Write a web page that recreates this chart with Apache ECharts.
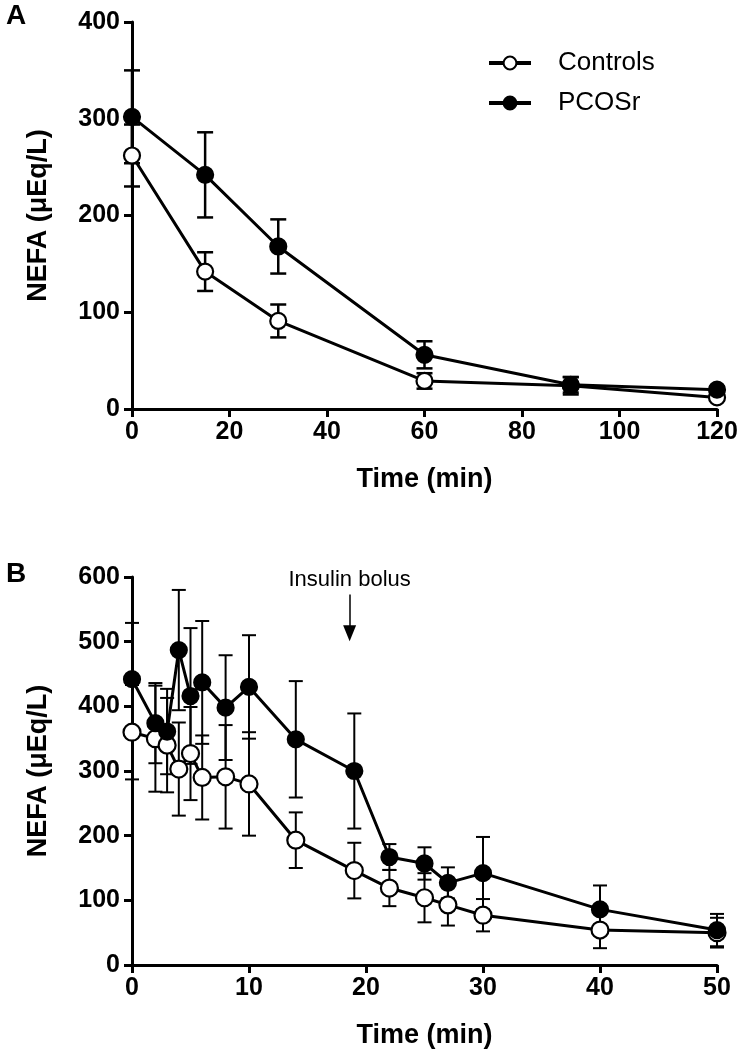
<!DOCTYPE html>
<html>
<head>
<meta charset="utf-8">
<script src="https://cdn.jsdelivr.net/npm/echarts@6/dist/echarts.min.js"></script>
<style>
html,body{margin:0;padding:0;background:#fff;}
#c{width:741px;height:1050px;}
</style>
</head>
<body>
<div id="c"></div>
<script>
// Panel A data
const timeA = [0, 15, 30, 60, 90, 120];
const controlsA = [262, 142, 91, 29, 24, 12];
const controlsSemA = [32, 20, 17, 8, 9, 3];
const pcosA = [302, 242, 168, 56, 25, 20];
const pcosSemA = [48, 44, 28, 14, 8, 3];

// Panel B data
const timeB = [0, 2, 3, 4, 5, 6, 8, 10, 14, 19, 22, 25, 27, 30, 40, 50];
const controlsB = [360, 350, 340, 303, 327, 290, 291, 280, 193, 146, 119, 104, 93, 77, 54, 50];
const controlsSemB = [73, 82, 73, 72, 72, 65, 80, 80, 43, 43, 28, 38, 32, 25, 28, 23];
const pcosB = [442, 374, 361, 487, 416, 437, 398, 430, 349, 300, 167, 157, 127, 142, 86, 54];
const pcosSemB = [87, 62, 66, 93, 105, 95, 81, 80, 90, 89, 20, 25, 24, 56, 37, 25];

const seriesNames = ['Controls', 'PCOSr'];
const yTitle = 'NEFA (\u03BCEq/L)';
const xTitle = 'Time (min)';
const bolusTime = 18.6;
const bolusArrow = [573, 513];
const bolusLabel = 'Insulin bolus';

const FONT = 'Liberation Sans, Arial, Helvetica, sans-serif';

function pairs(xs, ys) { return xs.map((x, i) => [x, ys[i]]); }
function errData(xs, ys, sem) { return xs.map((x, i) => [x, ys[i] - sem[i], ys[i] + sem[i]]); }

function errSeries(xi, data, capHalf, lw) {
  return {
    type: 'custom', xAxisIndex: xi, yAxisIndex: xi, z: 1, silent: true,
    data: data,
    encode: { x: 0, y: [1, 2] },
    renderItem: function (params, api) {
      const x = api.value(0);
      const lo = api.coord([x, api.value(1)]);
      const hi = api.coord([x, api.value(2)]);
      const st = { stroke: '#000', lineWidth: lw };
      return {
        type: 'group',
        children: [
          { type: 'line', shape: { x1: lo[0], y1: lo[1], x2: hi[0], y2: hi[1] }, style: st },
          { type: 'line', shape: { x1: lo[0] - capHalf, y1: lo[1], x2: lo[0] + capHalf, y2: lo[1] }, style: st },
          { type: 'line', shape: { x1: hi[0] - capHalf, y1: hi[1], x2: hi[0] + capHalf, y2: hi[1] }, style: st }
        ]
      };
    }
  };
}

function lineSeries(name, xi, data, open, size) {
  return {
    type: 'line', name: name, xAxisIndex: xi, yAxisIndex: xi, z: 3,
    data: data, symbol: 'circle', symbolSize: size, showAllSymbol: true,
    lineStyle: { color: '#000', width: 3 },
    itemStyle: { color: open ? '#fff' : '#000', borderColor: '#000', borderWidth: 2.2 },
    emphasis: { disabled: true },
    animation: false
  };
}

const axisCommon = {
  axisLine: { lineStyle: { color: '#000', width: 3 } },
  axisTick: { show: true, length: 8, lineStyle: { color: '#000', width: 3 } },
  axisLabel: { color: '#000', fontFamily: FONT, fontWeight: 'bold', fontSize: 25 },
  splitLine: { show: false },
  nameTextStyle: { color: '#000', fontFamily: FONT, fontWeight: 'bold', fontSize: 27 }
};

function xAx(gi, max, interval) {
  return Object.assign({}, JSON.parse(JSON.stringify(axisCommon)), {
    type: 'value', gridIndex: gi, min: 0, max: max, interval: interval,
    name: xTitle, nameLocation: 'middle', nameGap: 57,
    axisLabel: Object.assign({}, axisCommon.axisLabel, { margin: 11 })
  });
}
function yAx(gi, max, interval) {
  return Object.assign({}, JSON.parse(JSON.stringify(axisCommon)), {
    type: 'value', gridIndex: gi, min: 0, max: max, interval: interval,
    name: yTitle, nameLocation: 'middle', nameGap: 80, nameRotate: 90,
    axisLabel: Object.assign({}, axisCommon.axisLabel, { margin: 12 })
  });
}

const chart = echarts.init(document.getElementById('c'), null, { renderer: 'canvas' });
const pcosBSeries = lineSeries(seriesNames[1], 1, pairs(timeB, pcosB), false, 16);
pcosBSeries.markLine = {
  silent: true, animation: false,
  symbol: ['none', 'triangle'], symbolSize: [13, 16],
  lineStyle: { color: '#000', width: 1.5, type: 'solid' },
  label: { show: true, position: 'start', formatter: bolusLabel, color: '#000', fontFamily: FONT, fontSize: 22, distance: 4 },
  data: [[{ coord: [bolusTime, bolusArrow[0]] }, { coord: [bolusTime, bolusArrow[1]] }]]
};

chart.setOption({
  animation: false,
  backgroundColor: '#fff',
  textStyle: { fontFamily: FONT },
  grid: [
    { left: 132, right: 24, top: 22, height: 387 },
    { left: 132, right: 24, top: 577, height: 388 }
  ],
  xAxis: [xAx(0, 120, 20), xAx(1, 50, 10)],
  yAxis: [yAx(0, 400, 100), yAx(1, 600, 100)],
  legend: {
    data: seriesNames, orient: 'vertical', left: 482, top: 45,
    itemWidth: 42, itemHeight: 16, itemGap: 14,
    textStyle: { color: '#000', fontFamily: FONT, fontSize: 26, padding: [0, 0, 0, 22] },
    lineStyle: { width: 4 },
    selectedMode: false
  },
  graphic: [
    { type: 'text', left: 6, top: 2, style: { text: 'A', font: 'bold 28px ' + FONT, fill: '#000' } },
    { type: 'text', left: 6, top: 560, style: { text: 'B', font: 'bold 28px ' + FONT, fill: '#000' } }
  ],
  series: [
    errSeries(0, errData(timeA, controlsA, controlsSemA), 8, 2.5),
    errSeries(0, errData(timeA, pcosA, pcosSemA), 8, 2.5),
    lineSeries(seriesNames[0], 0, pairs(timeA, controlsA), true, 16),
    lineSeries(seriesNames[1], 0, pairs(timeA, pcosA), false, 16),
    errSeries(1, errData(timeB, controlsB, controlsSemB), 7, 2),
    errSeries(1, errData(timeB, pcosB, pcosSemB), 7, 2),
    lineSeries(seriesNames[0], 1, pairs(timeB, controlsB), true, 17),
    pcosBSeries
  ]
});
</script>
</body>
</html>
